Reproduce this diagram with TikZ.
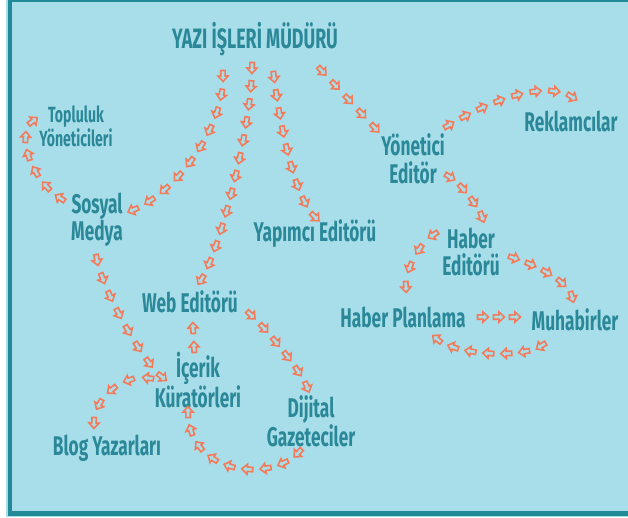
\documentclass[tikz,border=0pt]{standalone}
\usepackage{fontspec}
\usetikzlibrary{decorations.markings}
\newfontfamily\diagfont[FakeStretch=0.64]{Fira Sans}
\definecolor{skyfill}{RGB}{168,222,233}
\definecolor{frameteal}{RGB}{34,137,153}
\definecolor{roleteal}{RGB}{42,136,153}
\definecolor{flowcoral}{RGB}{244,122,90}
\newcommand{\hollowarrow}{\draw[flowcoral,line width=1.6pt,fill=skyfill,line join=miter]
  (-5.5pt,-2.2pt) -- (0pt,-2.2pt) -- (0pt,-5pt) -- (5.5pt,0pt) -- (0pt,5pt) -- (0pt,2.2pt) -- (-5.5pt,2.2pt) -- cycle;}
\begin{document}
\begin{tikzpicture}[x=1pt,y=-1pt]
	\tikzstyle{role}=[text=roleteal,font=\diagfont\bfseries\fontsize{27}{27.5}\selectfont,align=center,inner sep=1pt]
	\tikzstyle{smallrole}=[role,font=\diagfont\bfseries\fontsize{22}{21}\selectfont]
	\tikzset{flow/.style={decoration={markings,mark=between positions 0 and 1 step #1 with {\hollowarrow}},postaction={decorate}}}
	\useasboundingbox (0,0) rectangle (628,518);
	% background and frame
	\fill[white] (0,0) rectangle (628,518);
	\fill[skyfill] (6,0) rectangle (628,517);
	\fill[frameteal] (8,0) rectangle (628,2.5);
	\fill[frameteal] (8,0) rectangle (12,515.5);
	\fill[frameteal] (8,511) rectangle (628,515.5);
	% roles
	\node[role,font=\diagfont\bfseries\fontsize{28}{28}\selectfont] (mudur) at (255,39) {YAZI İŞLERİ MÜDÜRÜ};
	\node[smallrole] (topluluk) at (76,126) {Topluluk\\Yöneticileri};
	\node[role] (sosyal) at (97,220) {Sosyal\\Medya};
	\node[role] (yapimci) at (315,234) {Yapımcı Editörü};
	\node[role] (yonetici) at (413,159) {Yönetici\\Editör};
	\node[role] (reklam) at (571,121) {Reklamcılar};
	\node[role] (haber) at (471,252) {Haber\\Editörü};
	\node[role] (web) at (190,302) {Web Editörü};
	\node[role] (icerik) at (198,380) {İçerik\\Küratörleri};
	\node[role] (dijital) at (311,421) {Dijital\\Gazeteciler};
	\node[role] (blog) at (107,448) {Blog Yazarları};
	\node[role] (planlama) at (403,317) {Haber Planlama};
	\node[role] (muhabir) at (575,320) {Muhabirler};
	% arrow rows
	\path[flow=0.111] ([shift={(-32,37)}]mudur.center) .. controls (224,125) and (180,190) .. ([shift={(36,-10)}]sosyal.center);
	\path[flow=0.0832] ([shift={(-3,29)}]mudur.center) .. controls (251,130) and (220,250) .. ([shift={(11,-22)}]web.center);
	\path[flow=0.1249] ([shift={(19,38)}]mudur.center) .. controls (282,140) and (297,200) .. ([shift={(0,-17)}]yapimci.center);
	\path[flow=0.2499] ([shift={(67,32)}]mudur.center) -- ([shift={(-38,-31)}]yonetici.center);
	\path[flow=0.1428] ([shift={(36,-34)}]yonetici.center) .. controls (500,95) and (548,82) .. ([shift={(1,-24)}]reklam.center);
	\path[flow=0.333] ([shift={(37,18)}]yonetici.center) .. controls (460,183) and (478,206) .. ([shift={(11,-35)}]haber.center);
	\path[flow=0.333] ([shift={(-38,-17)}]haber.center) .. controls (420,243) and (405,270) .. ([shift={(3,-30)}]planlama.center);
	\path[flow=0.2499] ([shift={(43,6)}]haber.center) .. controls (535,265) and (567,280) .. ([shift={(-3,-23)}]muhabir.center);
	\path[flow=0.4999] ([shift={(80,0)}]planlama.center) -- ([shift={(-60,-3)}]muhabir.center);
	\path[flow=0.1666] ([shift={(-34,26)}]muhabir.center) .. controls (522,358) and (458,356) .. ([shift={(34,22)}]planlama.center);
	\path[flow=0.1999] ([shift={(-37,-22)}]sosyal.center) .. controls (32,180) and (15,135) .. ([shift={(-43,-5)}]topluluk.center);
	\path[flow=0.1428] ([shift={(0,40)}]sosyal.center) .. controls (103,290) and (142,361) .. ([shift={(-36,-3)}]icerik.center);
	\path[flow=0.2499] ([shift={(-50,-2)}]icerik.center) .. controls (125,375) and (95,395) .. ([shift={(-13,-25)}]blog.center);
	\path[flow=0.1999] ([shift={(61,13)}]web.center) .. controls (270,333) and (300,370) .. ([shift={(-4,-34)}]dijital.center);
	\path[flow=0.1249] ([shift={(-13,32)}]dijital.center) .. controls (270,482) and (189,475) .. ([shift={(-10,32)}]icerik.center);
	\path[flow=0.999] ([shift={(-4,-33)}]icerik.center) -- ([shift={(3,26)}]web.center);
\end{tikzpicture}
\end{document}
